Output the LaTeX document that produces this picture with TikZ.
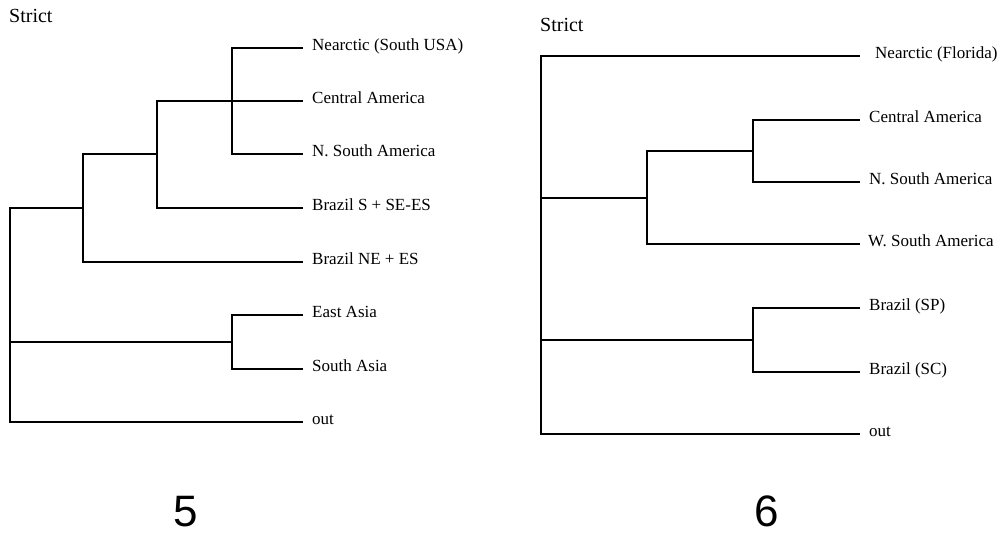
\documentclass[tikz,border=0pt]{standalone}
\usepackage{fontspec}
\setmainfont{Liberation Serif}
\newfontfamily\numfont{Liberation Sans}
\begin{document}
\begin{tikzpicture}[x=1pt,y=-1pt,
  branch/.style={line width=1.4pt},
  leaflabel/.style={anchor=mid west,inner sep=0pt,font=\fontsize{17}{20}\selectfont},
  titlelabel/.style={anchor=base west,inner sep=0pt,font=\fontsize{20}{24}\selectfont},
  numlabel/.style={anchor=base,inner sep=0pt,font=\numfont\fontsize{44}{50}\selectfont}]
\useasboundingbox (0,0) rectangle (1003,537);
% ---------- left tree (5) ----------
\node[titlelabel] (tL) at (9,23) {Strict};
\coordinate (rootL) at (10,342);
\coordinate (a3) at (83,208);
\coordinate (a2) at (157,154);
\coordinate (a1) at (232,101);
\coordinate (a4) at (232,342);
\coordinate (eL1) at (303,48);
\coordinate (eL2) at (303,101);
\coordinate (eL3) at (303,154);
\coordinate (eL4) at (303,208);
\coordinate (eL5) at (303,262);
\coordinate (eL6) at (303,315);
\coordinate (eL7) at (303,369);
\coordinate (eL8) at (303,422);
\draw[branch] (rootL) |- (a3);
\draw[branch] (rootL) |- (a4);
\draw[branch] (rootL) |- (eL8);
\draw[branch] (a3) |- (a2);
\draw[branch] (a3) |- (eL5);
\draw[branch] (a2) |- (a1);
\draw[branch] (a2) |- (eL2);
\draw[branch] (a2) |- (eL4);
\draw[branch] (a1) |- (eL1);
\draw[branch] (a1) |- (eL3);
\draw[branch] (a4) |- (eL6);
\draw[branch] (a4) |- (eL7);
\node[leaflabel] (lL1) at ([xshift=9pt]eL1) {Nearctic (South USA)};
\node[leaflabel] (lL2) at ([xshift=9pt]eL2) {Central America};
\node[leaflabel] (lL3) at ([xshift=9pt]eL3) {N. South America};
\node[leaflabel] (lL4) at ([xshift=9pt]eL4) {Brazil S + SE-ES};
\node[leaflabel] (lL5) at ([xshift=9pt]eL5) {Brazil NE + ES};
\node[leaflabel] (lL6) at ([xshift=9pt]eL6) {East Asia};
\node[leaflabel] (lL7) at ([xshift=9pt]eL7) {South Asia};
\node[leaflabel] (lL8) at ([xshift=9pt]eL8) {out};
\node[numlabel] (n5) at (186,526) {5};
% ---------- right tree (6) ----------
\node[titlelabel] (tR) at (540,32) {Strict};
\coordinate (rootR) at (541,198);
\coordinate (b3) at (647,198);
\coordinate (b1) at (753,151);
\coordinate (b4) at (753,340);
\coordinate (eR1) at (860,56);
\coordinate (eR2) at (860,120);
\coordinate (eR3) at (860,182);
\coordinate (eR4) at (860,244);
\coordinate (eR5) at (860,308);
\coordinate (eR6) at (860,372);
\coordinate (eR7) at (860,434);
\draw[branch] (rootR) |- (eR1);
\draw[branch] (rootR) |- (b3);
\draw[branch] (rootR) |- (b4);
\draw[branch] (rootR) |- (eR7);
\draw[branch] (b3) |- (b1);
\draw[branch] (b3) |- (eR4);
\draw[branch] (b1) |- (eR2);
\draw[branch] (b1) |- (eR3);
\draw[branch] (b4) |- (eR5);
\draw[branch] (b4) |- (eR6);
\node[leaflabel] (lR1) at ([xshift=15pt]eR1) {Nearctic (Florida)};
\node[leaflabel] (lR2) at ([xshift=9pt]eR2) {Central America};
\node[leaflabel] (lR3) at ([xshift=9pt]eR3) {N. South America};
\node[leaflabel] (lR4) at ([xshift=8pt]eR4) {W. South America};
\node[leaflabel] (lR5) at ([xshift=9pt]eR5) {Brazil (SP)};
\node[leaflabel] (lR6) at ([xshift=9pt]eR6) {Brazil (SC)};
\node[leaflabel] (lR7) at ([xshift=9pt]eR7) {out};
\node[numlabel] (n6) at (767,526) {6};
\end{tikzpicture}
\end{document}
